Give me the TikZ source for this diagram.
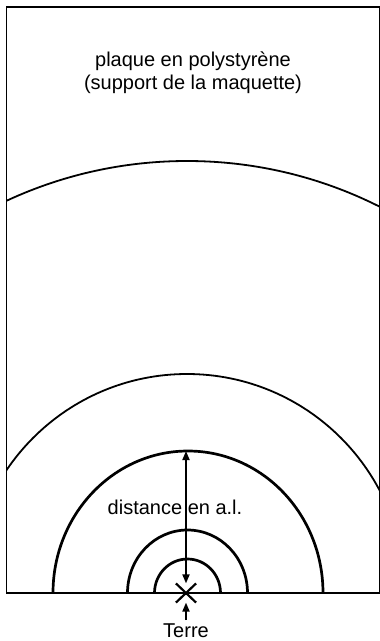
\documentclass[tikz,border=0pt]{standalone}
\usepackage{fontspec}
\setmainfont{Liberation Sans}
\usetikzlibrary{arrows.meta,shapes.misc}

\begin{document}
\begin{tikzpicture}[x=1pt,y=-1pt,
every node/.style={inner sep=0pt,font=\fontsize{20}{22.5}\selectfont},
ring/.style={line width=2.7pt},
far/.style={line width=1.8pt},
tip/.style={line width=1.7pt,-{Triangle[length=9pt,width=7pt]}},
both/.style={line width=1.7pt,{Triangle[length=9pt,width=7pt]}-{Triangle[length=9pt,width=7pt]}}]
\useasboundingbox (0,0) rectangle (380,641);
% the plate
\draw[line width=1.8pt] (6.5,593) -- (6.5,7) -- (380,7) -- (380,593) -- cycle;
\begin{scope}
\clip (6.5,7) rectangle (380,593);
\draw[far] (187,593) ellipse (430pt and 432pt);
\draw[far] (187,593) ellipse (218pt and 219pt);
\draw[ring] (188,593) ellipse (135pt and 142pt);
\draw[ring] (187.5,593) ellipse (60pt and 63pt);
\draw[ring] (187.5,593) ellipse (33pt and 34pt);
\end{scope}
% Earth and distances
\node[cross out,draw,line width=2.2pt,minimum width=18pt,minimum height=17pt] (terre) at (186,593) {};
\coordinate (apex) at (186,451);
\draw[both] (terre.north) -- (apex);
\node[anchor=base] (dist) at (175,514) {distance en a.l.};
\node[anchor=base,inner sep=3pt] (lbl) at (186,637) {Terre};
\draw[tip] (lbl) -- (terre.south);
\node[anchor=base,align=center] (plaque) at (193,89) {plaque en polystyrène\\(support de la maquette)};
\end{tikzpicture}
\end{document}
